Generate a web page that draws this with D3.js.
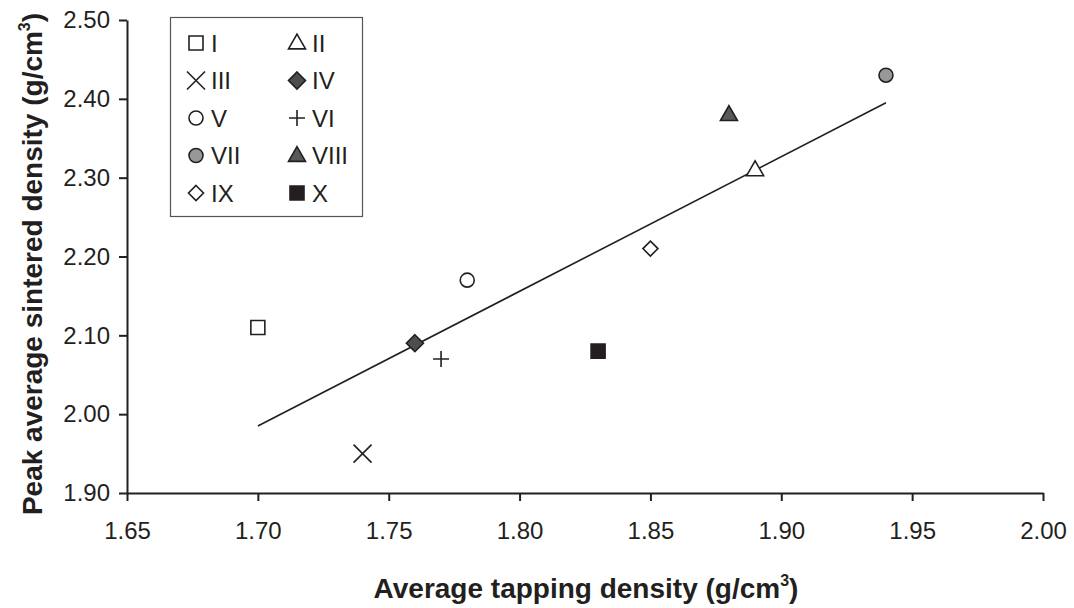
<!DOCTYPE html>
<html>
<head>
<meta charset="utf-8">
<script src="https://cdn.jsdelivr.net/npm/d3@7"></script>
<style>
  body { margin: 0; background: #fff; }
  text { font-family: "Liberation Sans", Arial, sans-serif; fill: #231f20; }
</style>
</head>
<body>
<div id="chart"></div>
<script>
// DATA
const labels = ['I', 'II', 'III', 'IV', 'V', 'VI', 'VII', 'VIII', 'IX', 'X'];
const tapping = [1.70, 1.89, 1.74, 1.76, 1.78, 1.77, 1.94, 1.88, 1.85, 1.83];
const sintered = [2.11, 2.31, 1.95, 2.09, 2.17, 2.07, 2.43, 2.38, 2.21, 2.08];
const trendX = [1.70, 1.94];
const trendY = [1.985, 2.395];
const xTicks = [1.65, 1.70, 1.75, 1.80, 1.85, 1.90, 1.95, 2.00];
const yTicks = [1.90, 2.00, 2.10, 2.20, 2.30, 2.40, 2.50];

// marker shapes, size = width in px
const shapes = {
  square: { draw(c, w) { const r = w / 2; c.rect(-r, -r, w, w); } },
  triangle: { draw(c, w) { const r = w / 2, h = w * 0.87; c.moveTo(0, -h * 0.6); c.lineTo(r, h * 0.4); c.lineTo(-r, h * 0.4); c.closePath(); } },
  times: { draw(c, w) { const r = w / 2; c.moveTo(-r, -r); c.lineTo(r, r); c.moveTo(r, -r); c.lineTo(-r, r); } },
  diamond: { draw(c, w) { const r = w / 2; c.moveTo(0, -r); c.lineTo(r, 0); c.lineTo(0, r); c.lineTo(-r, 0); c.closePath(); } },
  circle: { draw(c, w) { const r = w / 2; c.moveTo(r, 0); c.arc(0, 0, r, 0, 2 * Math.PI); } },
  plus: { draw(c, w) { const r = w / 2; c.moveTo(-r, 0); c.lineTo(r, 0); c.moveTo(0, -r); c.lineTo(0, r); } }
};
const style = {
  'I':    { shape: 'square',   size: 14, fill: '#fff' },
  'II':   { shape: 'triangle', size: 17, fill: '#fff' },
  'III':  { shape: 'times',    size: 18, fill: 'none' },
  'IV':   { shape: 'diamond',  size: 17, fill: '#4d4d4f' },
  'V':    { shape: 'circle',   size: 14, fill: '#fff' },
  'VI':   { shape: 'plus',     size: 16, fill: 'none' },
  'VII':  { shape: 'circle',   size: 14, fill: '#97989a' },
  'VIII': { shape: 'triangle', size: 17, fill: '#58595b' },
  'IX':   { shape: 'diamond',  size: 15, fill: '#fff' },
  'X':    { shape: 'square',   size: 14, fill: '#231f20' }
};

const width = 1074, height = 608;
const svg = d3.select('#chart').append('svg')
  .attr('width', width)
  .attr('height', height);

const x = d3.scaleLinear().domain([1.65, 2.00]).range([127, 1043]);
const y = d3.scaleLinear().domain([1.90, 2.50]).range([493, 20]);

// AXES
const xAxis = svg.append('g')
  .attr('transform', `translate(0, ${y(1.90)})`)
  .call(d3.axisBottom(x).tickValues(xTicks).tickFormat(d3.format('.2f')).tickSize(8).tickSizeOuter(0));
const yAxis = svg.append('g')
  .attr('transform', `translate(${x(1.65)}, 0)`)
  .call(d3.axisLeft(y).tickValues(yTicks).tickFormat(d3.format('.2f')).tickSize(8).tickSizeOuter(0));

[xAxis, yAxis].forEach(function(a) {
  a.select('.domain').attr('stroke', '#231f20').attr('stroke-width', 2);
  a.selectAll('.tick line').attr('stroke', '#231f20').attr('stroke-width', 2);
  a.selectAll('.tick text')
    .style('font-family', '"Liberation Sans", Arial, sans-serif')
    .style('font-size', '24px')
    .attr('fill', '#231f20');
});
xAxis.selectAll('.tick text').attr('y', 46).attr('dy', 0);
yAxis.selectAll('.tick text').attr('x', -17);

// TITLES
const xTitle = svg.append('text')
  .attr('x', 586)
  .attr('y', 598)
  .attr('text-anchor', 'middle')
  .style('font-size', '28px')
  .style('font-weight', 'bold');
xTitle.append('tspan').text('Average tapping density (g/cm');
xTitle.append('tspan').attr('dy', -12).style('font-size', '16px').text('3');
xTitle.append('tspan').attr('dy', 12).text(')');

const yTitle = svg.append('text')
  .attr('transform', 'translate(42, 264) rotate(-90)')
  .attr('text-anchor', 'middle')
  .style('font-size', '28px')
  .style('font-weight', 'bold');
yTitle.append('tspan').text('Peak average sintered density (g/cm');
yTitle.append('tspan').attr('dy', -12).style('font-size', '16px').text('3');
yTitle.append('tspan').attr('dy', 12).text(')');

// TREND LINE
svg.append('line')
  .attr('x1', x(trendX[0])).attr('y1', y(trendY[0]))
  .attr('x2', x(trendX[1])).attr('y2', y(trendY[1]))
  .attr('stroke', '#231f20')
  .attr('stroke-width', 1.6);

// POINTS
function marker(sel, lab) {
  const s = style[lab];
  sel.append('path')
    .attr('d', d3.symbol().type(shapes[s.shape]).size(s.size)())
    .attr('fill', s.fill)
    .attr('stroke', '#231f20')
    .attr('stroke-width', 1.6);
}

labels.forEach(function(lab, i) {
  const g = svg.append('g')
    .attr('transform', `translate(${x(tapping[i])}, ${y(sintered[i])})`);
  marker(g, lab);
});

// LEGEND
const legend = svg.append('g').attr('transform', 'translate(170, 17)');
legend.append('rect')
  .attr('x', 0.5).attr('y', 0.5)
  .attr('width', 192).attr('height', 199)
  .attr('fill', '#fff')
  .attr('stroke', '#555')
  .attr('stroke-width', 1.2);

labels.forEach(function(lab, i) {
  const col = i % 2, row = Math.floor(i / 2);
  const item = legend.append('g')
    .attr('transform', `translate(${col === 0 ? 26 : 127}, ${26 + row * 37.5})`);
  marker(item, lab);
  item.append('text')
    .attr('x', 15)
    .attr('dy', '0.36em')
    .style('font-size', '24px')
    .text(lab);
});
</script>
</body>
</html>
